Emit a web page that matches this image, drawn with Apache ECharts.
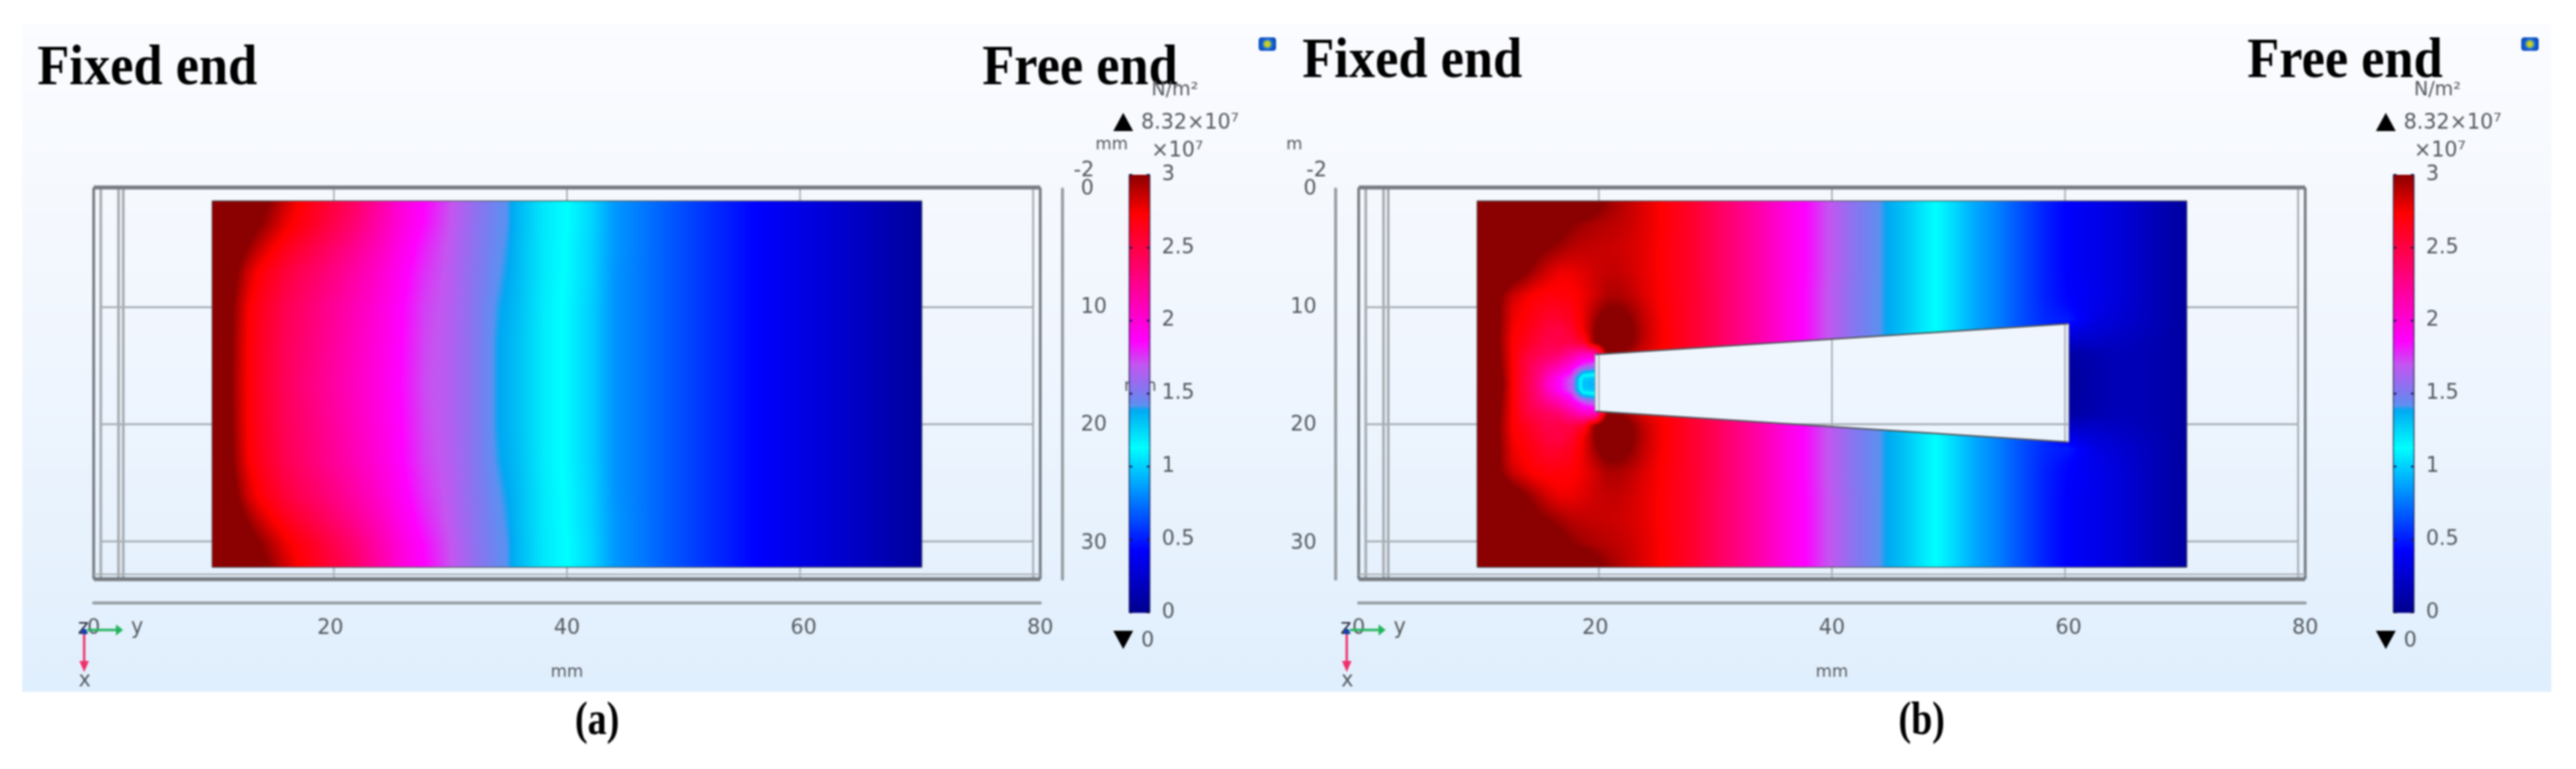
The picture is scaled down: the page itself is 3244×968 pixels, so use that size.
<!DOCTYPE html>
<html><head><meta charset="utf-8">
<style>html,body{margin:0;padding:0;background:#fff}#c{width:3244px;height:968px;filter:blur(0.9px)}</style>
<script src="https://cdn.jsdelivr.net/npm/echarts@6/dist/echarts.min.js"></script>
</head><body><div id="c"></div>
<script>
// ---- colour scale (x 10^7 N/m^2) ----
const colorbarTicks=[0,0.5,1,1.5,2,2.5,3];
const cmapValues=[0,0.43,1.13,1.39,1.42,1.5,1.7,1.86,2.3,2.74,3];
const cmapColors=['#00008c','#0000ff','#00ffff','#00a8f2','#5c90f0','#7a7cf0','#c455f0','#ff00ff','#ff0080','#ff0000','#8b0000'];
// ---- stress field (a): values read at columns stressColsA, rows stressRowsA (mirrored about mid-height) ----
const stressColsA=[10,12,13,14,15,16,17,18,20,22,24,26,28,30,32,34,35,36,38,40,42,44,48,52,56,60,64,70];
const stressRowsA=[1,3,5,7,10,13,16.5];
const stressA_y1=[3.4,3.3,3.2,3.08,2.98,2.88,2.78,2.7,2.55,2.4,2.2,2,1.86,1.72,1.58,1.46,1.41,1.34,1.2,1.13,1.02,.85,.7,.56,.43,.33,.22,.06];
const stressA_y3=[3.4,3.25,3.12,3,2.9,2.8,2.72,2.65,2.5,2.35,2.16,1.98,1.84,1.71,1.57,1.45,1.41,1.34,1.2,1.13,1.02,.85,.7,.56,.43,.33,.22,.06];
const stressA_y5=[3.4,3.12,2.98,2.86,2.76,2.68,2.6,2.53,2.4,2.25,2.1,1.94,1.8,1.69,1.56,1.44,1.4,1.33,1.2,1.12,1.01,.85,.7,.56,.43,.33,.22,.06];
const stressA_y7=[3.4,3.02,2.85,2.72,2.64,2.56,2.49,2.43,2.31,2.18,2.05,1.9,1.77,1.68,1.55,1.43,1.39,1.33,1.2,1.12,1.01,.84,.7,.56,.43,.33,.22,.06];
const stressA_y10=[3.4,2.95,2.76,2.65,2.56,2.48,2.42,2.36,2.24,2.12,2,1.87,1.74,1.67,1.54,1.41,1.37,1.32,1.19,1.11,1,.84,.7,.56,.43,.33,.22,.06];
const stressA_y13=[3.4,2.93,2.74,2.63,2.54,2.46,2.4,2.34,2.22,2.1,1.98,1.86,1.73,1.66,1.54,1.4,1.36,1.31,1.19,1.11,1,.84,.7,.56,.43,.33,.22,.06];
const stressA_y16=[3.4,2.92,2.74,2.62,2.53,2.45,2.38,2.32,2.2,2.08,1.97,1.85,1.72,1.66,1.54,1.4,1.36,1.31,1.19,1.11,1,.84,.7,.56,.43,.33,.22,.06];
// ---- stress field (b) ----
const stressColsB=[10,12,13,14,15,16,17,18,19,20,21,22,23,24,25,26,28,30,32,34,36,38,40,42,44,45,46,48,50,52,54,56,58,60,62,64,66,68,70];
const stressRowsB=[1,3,5,7,9,10,11,12,13,14,15,16,16.5];
const stressB_y1=[3.4,3.4,3.4,3.4,3.4,3.35,3.3,3.25,3.2,3.08,2.98,2.92,2.87,2.82,2.77,2.71,2.6,2.45,2.3,2.15,1.98,1.84,1.68,1.53,1.42,1.37,1.32,1.18,1.05,.9,.78,.65,.52,.42,.36,.3,.22,.14,.07];
const stressB_y3=[3.4,3.4,3.35,3.3,3.2,3.15,3.08,3,2.95,2.92,2.9,2.88,2.85,2.81,2.77,2.71,2.6,2.45,2.3,2.15,1.98,1.84,1.68,1.53,1.42,1.37,1.32,1.18,1.05,.9,.78,.65,.52,.42,.36,.3,.22,.14,.07];
const stressB_y5=[3.4,3.3,3.2,3.12,3.05,3,2.95,2.9,2.88,2.87,2.86,2.85,2.83,2.8,2.76,2.7,2.6,2.45,2.3,2.15,1.98,1.84,1.68,1.53,1.42,1.37,1.32,1.18,1.05,.9,.78,.65,.52,.42,.36,.3,.22,.14,.07];
const stressB_y7=[3.4,3.2,3.1,3.02,2.92,2.84,2.78,2.78,2.81,2.85,2.87,2.87,2.84,2.8,2.76,2.7,2.6,2.45,2.3,2.15,1.98,1.84,1.68,1.53,1.42,1.37,1.32,1.18,1.05,.9,.78,.65,.52,.42,.36,.3,.22,.14,.07];
const stressB_y9=[3.4,3,2.86,2.78,2.72,2.7,2.7,2.72,2.77,2.84,2.92,2.92,2.88,2.82,2.77,2.71,2.6,2.46,2.3,2.15,1.98,1.83,1.67,1.52,1.42,1.37,1.32,1.18,1.05,.9,.78,.65,.52,.43,.37,.3,.22,.14,.07];
const stressB_y10=[3.4,2.98,2.8,2.74,2.68,2.64,2.64,2.68,2.78,2.9,3,3,2.94,2.86,2.78,2.72,2.6,2.46,2.3,2.15,1.98,1.83,1.67,1.52,1.42,1.37,1.32,1.18,1.05,.9,.78,.65,.53,.45,.36,.29,.22,.14,.07];
const stressB_y11=[3.4,2.98,2.78,2.72,2.64,2.58,2.58,2.64,2.78,2.96,3.1,3.1,3,2.88,2.8,2.72,2.6,2.46,2.3,2.15,1.98,1.83,1.67,1.52,1.42,1.37,1.32,1.18,1.05,.9,.78,.65,.54,.5,.34,.27,.21,.14,.07];
const stressB_y12=[3.4,2.97,2.76,2.68,2.6,2.52,2.5,2.58,2.76,3,3.2,3.18,3.02,2.9,2.8,2.73,2.6,2.46,2.3,2.15,1.98,1.83,1.67,1.52,1.42,1.37,1.32,1.18,1.05,.9,.78,.65,.54,.34,.28,.24,.19,.13,.07];
const stressB_y13=[3.4,2.96,2.74,2.65,2.55,2.48,2.5,2.5,2.6,3,3.2,3.18,3.02,2.88,2.8,2.73,2.6,2.46,2.3,2.15,1.98,1.83,1.67,1.52,1.42,1.37,1.32,1.18,1.05,.9,.78,.65,.54,.22,.22,.2,.17,.12,.07];
const stressB_y14=[3.4,2.98,2.74,2.56,2.48,2.42,2.36,2.22,2.08,2.1,3,3,2.9,2.82,2.76,2.7,2.6,2.46,2.3,2.15,1.98,1.83,1.67,1.52,1.42,1.37,1.32,1.18,1.05,.9,.78,.65,.54,.08,.13,.17,.16,.12,.07];
const stressB_y15=[3.4,3,2.74,2.53,2.38,2.25,2.12,1.95,1.72,1.6,2.9,2.9,2.85,2.8,2.75,2.7,2.6,2.46,2.3,2.15,1.98,1.83,1.67,1.52,1.42,1.37,1.32,1.18,1.05,.9,.78,.65,.54,.06,.12,.16,.16,.12,.07];
const stressB_y16=[3.4,3.03,2.74,2.52,2.34,2.08,1.88,1.7,1,.95,2.8,2.8,2.8,2.8,2.75,2.7,2.6,2.46,2.3,2.15,1.98,1.83,1.67,1.52,1.42,1.37,1.32,1.18,1.05,.9,.78,.65,.54,.05,.12,.16,.16,.12,.07];
const stressB_y16m=[3.4,3.05,2.74,2.52,2.32,2.05,1.86,1.68,.95,.92,2.8,2.8,2.8,2.8,2.75,2.7,2.6,2.46,2.3,2.15,1.98,1.83,1.67,1.52,1.42,1.37,1.32,1.18,1.05,.9,.78,.65,.54,.05,.12,.16,.16,.12,.07];
// ---- notch of (b), in mm ----
const notchX=[20,60];
const notchTop=[14,11.4];
const notchBottom=[18.8,21.4];
// ---- axes ----
const xTicks=[0,20,40,60,80];
const yTicks=[0,10,20,30];
// ---- mesh / box lines, in mm ----
const gridLinesY=[10,19.9,29.8];
const gridLinesX=[20.3,40,59.7];
const boxLinesX=[0,0.6,2.1,2.5,79.4,80];

const rowsA=[stressA_y1,stressA_y3,stressA_y5,stressA_y7,stressA_y10,stressA_y13,stressA_y16];
const rowsB=[stressB_y1,stressB_y3,stressB_y5,stressB_y7,stressB_y9,stressB_y10,stressB_y11,stressB_y12,stressB_y13,stressB_y14,stressB_y15,stressB_y16,stressB_y16m];

function mirror(ys,rows){
  const Y=ys.slice(),R=rows.slice();
  for(let i=ys.length-2;i>=0;i--){Y.push(33-ys[i]);R.push(rows[i]);}
  return {Y,R};
}
function hexRgb(h){return [parseInt(h.slice(1,3),16),parseInt(h.slice(3,5),16),parseInt(h.slice(5,7),16)];}
const LUTN=1536,lut=[];
(function(){
  const c=cmapColors.map(hexRgb);
  for(let i=0;i<=LUTN;i++){
    const v=i/LUTN*3;let k=0;
    while(k<cmapValues.length-2&&v>cmapValues[k+1])k++;
    const t=(v-cmapValues[k])/(cmapValues[k+1]-cmapValues[k]);
    lut.push([0,1,2].map(j=>Math.round(c[k][j]+(c[k+1][j]-c[k][j])*t)));
  }
})();
function cellsFrom(cols,ys,rows){
  const m=mirror(ys,rows),out=[];
  for(let j=0;j<m.Y.length-1;j++)for(let i=0;i<cols.length-1;i++){
    out.push([cols[i],m.Y[j],cols[i+1],m.Y[j+1],m.R[j][i],m.R[j][i+1],m.R[j+1][i],m.R[j+1][i+1]]);
  }
  return out;
}
function inNotch(x,y){
  if(x<notchX[0]||x>notchX[1])return false;
  const t=(x-notchX[0])/(notchX[1]-notchX[0]);
  return y>notchTop[0]+(notchTop[1]-notchTop[0])*t&&y<notchBottom[0]+(notchBottom[1]-notchBottom[0])*t;
}
function heatRenderer(hole){
  return function(params,api){
    const x0=api.value(0),y0=api.value(1),x1=api.value(2),y1=api.value(3);
    const v=[api.value(4),api.value(5),api.value(6),api.value(7)];
    const a=api.coord([x0,y0]),b=api.coord([x1,y1]);
    const ax=Math.round(a[0]),ay=Math.round(a[1]),bx=Math.round(b[0]),by=Math.round(b[1]);
    const w=bx-ax,h=by-ay;
    if(w<=0||h<=0)return null;
    const cv=document.createElement('canvas');cv.width=w;cv.height=h;
    const g=cv.getContext('2d'),im=g.createImageData(w,h),d=im.data;
    for(let py=0;py<h;py++){
      const ty=(py+.5)/h;
      for(let px=0;px<w;px++){
        const tx=(px+.5)/w;
        const val=(v[0]*(1-tx)+v[1]*tx)*(1-ty)+(v[2]*(1-tx)+v[3]*tx)*ty;
        const c=lut[Math.max(0,Math.min(LUTN,Math.round(val/3*LUTN)))];
        const o=(py*w+px)*4;
        d[o]=c[0];d[o+1]=c[1];d[o+2]=c[2];
        d[o+3]=(hole&&inNotch(x0+(x1-x0)*tx,y0+(y1-y0)*ty))?0:255;
      }
    }
    g.putImageData(im,0,0);
    return {type:'image',silent:true,style:{image:cv,x:ax,y:ay,width:w,height:h}};
  };
}
function linesRenderer(params,api){
  const a=api.coord([api.value(0),api.value(1)]),b=api.coord([api.value(2),api.value(3)]);
  const k=api.value(5);
  return {type:'line',silent:true,shape:{x1:a[0],y1:a[1],x2:b[0],y2:b[1]},
    style:{stroke:k===1?'#767b81':k===2?'#a9aeb3':'#555a60',lineWidth:api.value(4)}};
}
// line kinds: 1 = box, 2 = mesh, 3 = body edge
const meshData=[];
gridLinesY.forEach(y=>meshData.push([0.6,y,79.4,y,2.5,2]));
gridLinesX.forEach(x=>meshData.push([x,0,x,33,2,2]));
boxLinesX.forEach((x,i)=>meshData.push([x,-0.13,x,33,(i===0||i===5)?3.5:(i===4?2.5:3.5),(i===0||i===5)?1:2]));
const boxData=[[0,-0.13,80,-0.13,5,1],[0,33,80,33,5,1],[0,32.6,80,32.6,2,2]];
const edgeData=[[10,1,70,1,1.2,3],[10,32,70,32,1.2,3],[70,1,70,32,1,3],[10,1,10,32,1,3]];
const notchData=[
 [notchX[0],notchTop[0],notchX[1],notchTop[1],2,3],
 [notchX[0],notchBottom[0],notchX[1],notchBottom[1],2,3],
 [notchX[0],notchTop[0],notchX[0],notchBottom[0],1.5,2],
 [notchX[1],notchTop[1],notchX[1],notchBottom[1],1.5,2]];

function barRenderer(params,api){
  const i=params.dataIndex;
  if(i>=cmapValues.length-1)return null;
  const a=api.coord([0,api.value(0)]),b=api.coord([1,api.value(1)]);
  const edge='rgba(25,25,70,0.55)';
  return {type:'group',silent:true,children:[
    {type:'rect',shape:{x:a[0],y:b[1],width:b[0]-a[0],height:a[1]-b[1]+0.6},
     style:{fill:new echarts.graphic.LinearGradient(0,1,0,0,[{offset:0,color:cmapColors[i]},{offset:1,color:cmapColors[i+1]}])}},
    {type:'line',shape:{x1:a[0],y1:a[1],x2:a[0],y2:b[1]},style:{stroke:edge,lineWidth:2}},
    {type:'line',shape:{x1:b[0],y1:a[1],x2:b[0],y2:b[1]},style:{stroke:edge,lineWidth:2}}]};
}
function barTickRenderer(params,api){
  const a=api.coord([0,api.value(0)]),b=api.coord([1,api.value(0)]);
  return {type:'group',silent:true,children:[
    {type:'line',shape:{x1:a[0],y1:a[1],x2:a[0]+4,y2:a[1]},style:{stroke:'#1a1a50',lineWidth:2}},
    {type:'line',shape:{x1:b[0]-4,y1:b[1],x2:b[0],y2:b[1]},style:{stroke:'#1a1a50',lineWidth:2}}]};
}
const barData=cmapValues.map((v,i)=>[v,i<cmapValues.length-1?cmapValues[i+1]:v]);

const tickStyle={color:'#55595e',fontSize:26,fontFamily:'DejaVu Sans'};
function plotX(idx){return {gridIndex:idx,type:'value',min:0,max:80,interval:20,position:'bottom',offset:30,
  name:'mm',nameLocation:'middle',nameGap:77,nameTextStyle:{color:'#55595e',fontSize:21,fontFamily:'DejaVu Sans'},
  axisLine:{show:true,onZero:false,lineStyle:{color:'#9aa0a6',width:4}},axisTick:{show:false},splitLine:{show:false},
  axisLabel:Object.assign({margin:19},tickStyle)};}
function plotY(idx,pos,off,margin){return {gridIndex:idx,type:'value',min:0,max:33,interval:10,inverse:true,position:pos,offset:off,
  axisLine:{show:true,onZero:false,lineStyle:{color:'#9aa0a6',width:4}},axisTick:{show:false},splitLine:{show:false},
  axisLabel:Object.assign({margin:margin,showMaxLabel:false,formatter:v=>yTicks.includes(v)?String(v):''},tickStyle)};}
function barX(idx){return {gridIndex:idx,type:'value',min:0,max:1,show:false};}
function barY(idx){return {gridIndex:idx,type:'value',min:0,max:3,interval:.5,position:'right',
  axisLine:{show:false},axisTick:{show:false},splitLine:{show:false},
  axisLabel:Object.assign({margin:15},tickStyle)};}

function heatSeries(name,idx,cols,ys,rows,hole){return {name,type:'custom',xAxisIndex:idx,yAxisIndex:idx,z:3,animation:false,clip:false,
  renderItem:heatRenderer(hole),encode:{x:[0,2],y:[1,3]},data:cellsFrom(cols,ys,rows)};}
function lineSeries(name,idx,data,z){return {name,type:'custom',xAxisIndex:idx,yAxisIndex:idx,z,animation:false,clip:false,
  renderItem:linesRenderer,encode:{x:[0,2],y:[1,3]},data};}

function txt(text,x,y,size,opt){return {type:'text',z:50,silent:true,x,y,style:Object.assign({text,fill:'#55595e',fontSize:size,fontFamily:'DejaVu Sans',align:'left',verticalAlign:'middle'},opt||{})};}
function poly(points,fill){return {type:'polygon',z:50,silent:true,shape:{points},style:{fill}};}
function serif(text,x,y,size,align,sy){return Object.assign(txt(text,x,y,size,{fill:'#000',fontFamily:'Liberation Serif',fontWeight:'bold',align:align||'left'}),{scaleY:sy});}
function annotations(dx,fixedX,freeX,titleY){
  return [
    serif('Fixed end',fixedX,titleY,66,'left',1.1),
    serif('Free end',freeX,titleY,66,'left',1.1),
    txt('N/m²',1450+dx,114,24),
    poly([[1402+dx,165],[1427+dx,165],[1414.5+dx,142]],'#000'),
    txt('8.32×10⁷',1437+dx,155,26),
    txt('×10⁷',1450+dx,190,26),
    poly([[1402+dx,794],[1427+dx,794],[1414.5+dx,817]],'#000'),
    txt('0',1437+dx,807,26),
    {type:'line',z:50,silent:true,shape:{x1:110+dx,y1:793,x2:150+dx,y2:793},style:{stroke:'#22b45a',lineWidth:3}},
    poly([[146+dx,786],[146+dx,800],[155+dx,793]],'#22b45a'),
    {type:'line',z:50,silent:true,shape:{x1:106+dx,y1:796,x2:106+dx,y2:838},style:{stroke:'#f0306a',lineWidth:3}},
    poly([[100+dx,832],[112+dx,832],[106+dx,846]],'#f0306a'),
    txt('y',165+dx,790,26),
    txt('x',99+dx,857,26),
    txt('z',98+dx,791,26,{fill:'#334'}),
    {type:'circle',z:51,silent:true,shape:{cx:106+dx,cy:795,r:3.5},style:{fill:'#1040b0'}},
    {type:'rect',z:50,silent:true,shape:{x:1585+dx,y:47,width:22,height:17,r:4},style:{fill:new echarts.graphic.RadialGradient(.5,.5,.55,[{offset:0,color:'#f4d21f'},{offset:.45,color:'#9ac040'},{offset:.6,color:'#1f6fe0'},{offset:1,color:'#0d4fc0'}])}}
  ];
}
const graphics=[
  {type:'rect',z:-10,silent:true,shape:{x:28,y:30,width:3185,height:841},
   style:{fill:new echarts.graphic.LinearGradient(0,0,0,1,[{offset:0,color:'#fbfcff'},{offset:.5,color:'#f0f6fe'},{offset:1,color:'#e0effd'}])}},
  ...annotations(0,47,1237,87),
  ...annotations(1590,1640,2830,78),
  txt('-2',1352,215,26),
  txt('-2',1645,215,26),
  txt('mm',1400,183,21,{align:'center'}),
  txt('m',1630,183,21,{align:'center'}),
  Object.assign(txt('mm',1436,487,21,{align:'center'}),{z:1}),
  serif('(a)',752,908,48,'center',1.25),
  serif('(b)',2420,908,48,'center',1.25)
];

const option={
  animation:false,
  backgroundColor:'#ffffff',
  graphic:{elements:graphics},
  grid:[
    {left:118,top:238,width:1192,height:491},
    {left:1711,top:238,width:1192,height:491},
    {left:1422,top:220,width:26,height:551},
    {left:3014,top:220,width:26,height:551}
  ],
  xAxis:[plotX(0),plotX(1),barX(2),barX(3)],
  yAxis:[plotY(0,'right',28,23),plotY(1,'left',29,24),barY(2),barY(3)],
  series:[
    lineSeries('mesh a',0,meshData,2),
    lineSeries('mesh b',1,meshData,2),
    lineSeries('box a',0,boxData,4),
    lineSeries('box b',1,boxData,4),
    heatSeries('stress (a)',0,stressColsA,stressRowsA,rowsA,false),
    heatSeries('stress (b)',1,stressColsB,stressRowsB,rowsB,true),
    lineSeries('body edge a',0,edgeData,5),
    lineSeries('body edge b',1,edgeData,5),
    lineSeries('notch b',1,notchData,6),
    {name:'colorbar a',type:'custom',xAxisIndex:2,yAxisIndex:2,z:5,animation:false,renderItem:barRenderer,encode:{y:[0,1]},data:barData},
    {name:'colorbar b',type:'custom',xAxisIndex:3,yAxisIndex:3,z:5,animation:false,renderItem:barRenderer,encode:{y:[0,1]},data:barData},
    {name:'colorbar ticks a',type:'custom',xAxisIndex:2,yAxisIndex:2,z:6,animation:false,renderItem:barTickRenderer,encode:{y:0},data:colorbarTicks.map(v=>[v])},
    {name:'colorbar ticks b',type:'custom',xAxisIndex:3,yAxisIndex:3,z:6,animation:false,renderItem:barTickRenderer,encode:{y:0},data:colorbarTicks.map(v=>[v])}
  ]
};
const chart=echarts.init(document.getElementById('c'),null,{renderer:'canvas'});
chart.setOption(option);
</script></body></html>
